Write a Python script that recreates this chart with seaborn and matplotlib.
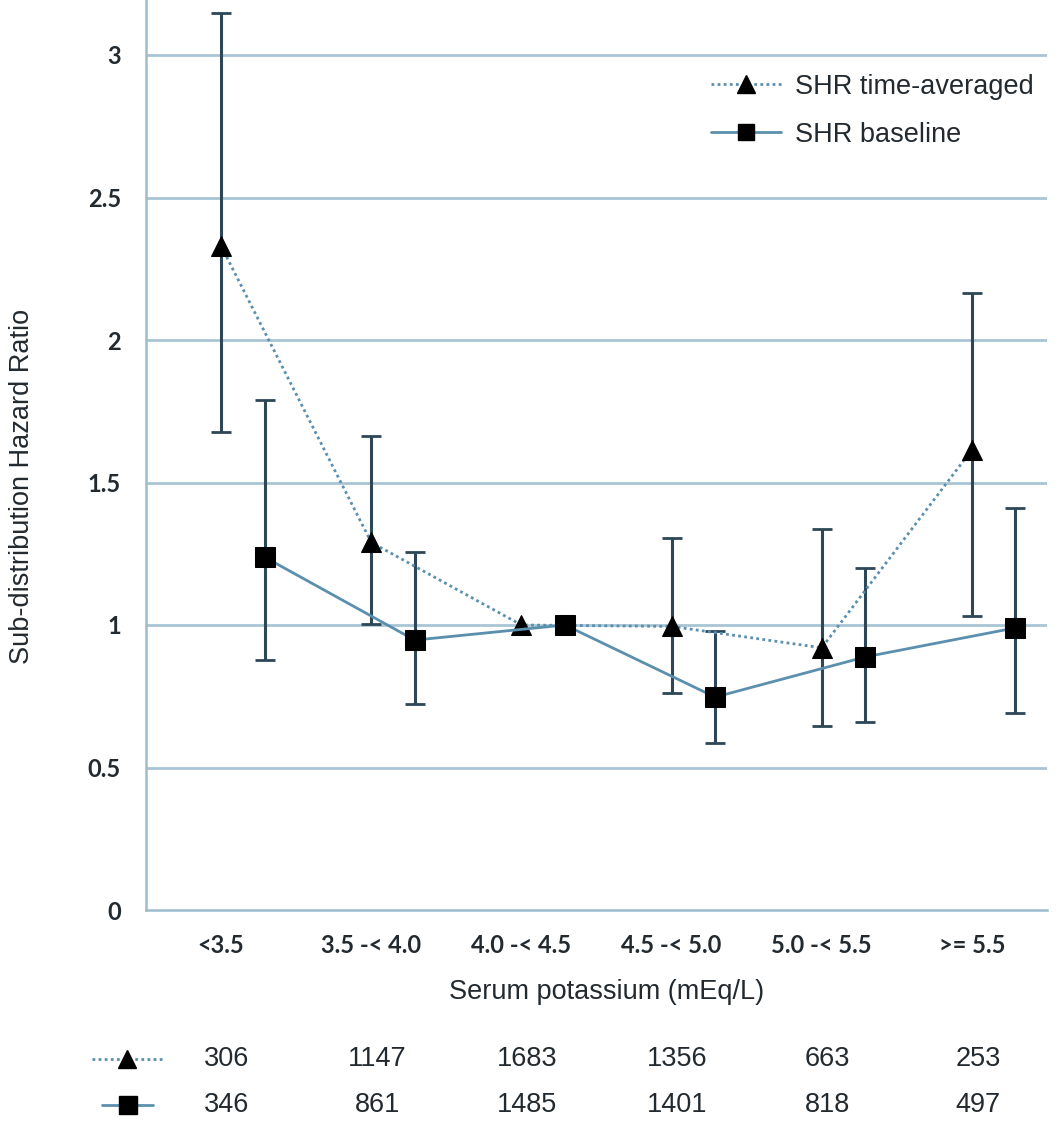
import numpy as np
import pandas as pd
import matplotlib
matplotlib.use("Agg")
import matplotlib.pyplot as plt
from matplotlib.lines import Line2D
import seaborn as sns

categories = ["<3.5", "3.5 -< 4.0", "4.0 -< 4.5", "4.5 -< 5.0", "5.0 -< 5.5", ">= 5.5"]
tavg_hr = [2.33, 1.29, 1.0, 0.995, 0.92, 1.615]
tavg_lo = [1.677, 1.004, np.nan, 0.761, 0.646, 1.032]
tavg_hi = [3.147, 1.663, np.nan, 1.305, 1.337, 2.165]
base_hr = [1.238, 0.947, 1.0, 0.747, 0.888, 0.99]
base_lo = [0.877, 0.723, np.nan, 0.586, 0.66, 0.691]
base_hi = [1.789, 1.256, np.nan, 0.979, 1.2, 1.41]
tavg_n = [306, 1147, 1683, 1356, 663, 253]
base_n = [346, 861, 1485, 1401, 818, 497]
yticks = [0, 0.5, 1, 1.5, 2, 2.5, 3]
ytick_labels = ["0", "0.5", "1", "1.5", "2", "2.5", "3"]

sns.set_theme(style="white")
plt.rcParams['font.family'] = ['Liberation Sans', 'DejaVu Sans']

W, H = 1058, 1122
fig = plt.figure(figsize=(W / 100, H / 100), dpi=100)
ax = fig.add_axes([146 / W, 1 - 910 / H, (1047 - 146) / W, 910 / H])

line_col = "#5b8fae"
err_col = "#2d4756"
grid_col = "#a9c5d5"
spine_col = "#9dbccd"
text_col = "#222a30"
tick_font = dict(family=["Lato", "DejaVu Sans"], weight="bold", size=17)
main_fs = 19.5

idx = np.arange(len(categories))
off = 0.29
df = pd.DataFrame({
    "x": np.concatenate([idx, idx + off]),
    "hr": tavg_hr + base_hr,
    "series": ["SHR time-averaged"] * 6 + ["SHR baseline"] * 6,
})

for y in yticks[1:]:
    ax.axhline(y, color=grid_col, lw=2, zorder=0)

ax.errorbar(idx, tavg_hr,
            yerr=[np.array(tavg_hr) - np.array(tavg_lo), np.array(tavg_hi) - np.array(tavg_hr)],
            fmt="none", ecolor=err_col, elinewidth=2.2, capsize=7, capthick=2, zorder=2)
ax.errorbar(idx + off, base_hr,
            yerr=[np.array(base_hr) - np.array(base_lo), np.array(base_hi) - np.array(base_hr)],
            fmt="none", ecolor=err_col, elinewidth=2.2, capsize=7, capthick=2, zorder=2)

sns.lineplot(data=df[df.series == "SHR time-averaged"], x="x", y="hr", ax=ax,
             color=line_col, lw=2, linestyle=(0, (1, 1.2)), marker="^", markersize=15,
             markerfacecolor="black", markeredgecolor="black",
             zorder=3, legend=False)
sns.lineplot(data=df[df.series == "SHR baseline"], x="x", y="hr", ax=ax,
             color=line_col, lw=2, linestyle="-", marker="s", markersize=14,
             markerfacecolor="black", markeredgecolor="black",
             zorder=3, legend=False)

ax.set_xlim(-0.5, 5.5)
ax.set_ylim(0, 910 / 285)
ax.set_yticks(yticks)
ax.set_yticklabels(ytick_labels, color=text_col, fontdict=tick_font)
ax.set_xticks(idx + 0.0)
ax.set_xticklabels(categories, color=text_col, fontdict=tick_font)
ax.set_xticks(np.arange(-0.5, 6.0, 1.0), minor=True)
ax.tick_params(axis="x", which="major", length=0, pad=17)
ax.tick_params(axis="x", which="minor", length=6, color=spine_col, width=1.5, direction="out")
ax.tick_params(axis="y", length=7, color=spine_col, width=1.5, direction="out", pad=11)
for s in ["top", "right"]:
    ax.spines[s].set_visible(False)
for s in ["left", "bottom"]:
    ax.spines[s].set_color(spine_col)
    ax.spines[s].set_linewidth(1.8)

ax.set_xlabel("Serum potassium (mEq/L)", fontsize=main_fs, color=text_col)
ax.xaxis.set_label_coords((607 - 146) / (1047 - 146), -(979 - 910) / 910)
ax.set_ylabel("Sub-distribution Hazard Ratio", fontsize=19.5, color=text_col)
ax.yaxis.set_label_coords(-(146 - 35) / (1047 - 146), 1 - 486 / 910)

handles = [
    Line2D([], [], color=line_col, lw=2, linestyle=(0, (1, 1.2)), marker="^", markersize=13,
           markerfacecolor="black", markeredgecolor="black"),
    Line2D([], [], color=line_col, lw=2, linestyle="-", marker="s", markersize=12,
           markerfacecolor="black", markeredgecolor="black"),
]
leg = ax.legend(handles, ["SHR time-averaged", "SHR baseline"], loc="upper right",
                bbox_to_anchor=(1.012, 0.946), frameon=False, fontsize=main_fs, handlelength=2.6,
                handletextpad=0.5, labelspacing=0.82)
for t in leg.get_texts():
    t.set_color(text_col)

trans = matplotlib.transforms.blended_transform_factory(ax.transData, fig.transFigure)
row_y = [1 - 1059 / H, 1 - 1105 / H]
for i in range(len(categories)):
    fig.text(i + 0.04, row_y[0], str(tavg_n[i]), transform=trans, ha="center", va="center",
             fontsize=main_fs, color=text_col)
    fig.text(i + 0.04, row_y[1], str(base_n[i]), transform=trans, ha="center", va="center",
             fontsize=main_fs, color=text_col)

fig.add_artist(Line2D([92 / W, 162 / W], [row_y[0], row_y[0]], color=line_col, lw=2,
                      linestyle=(0, (1, 1.2)), transform=fig.transFigure))
fig.add_artist(Line2D([127 / W], [row_y[0]], marker="^", markersize=13, color="black",
                      transform=fig.transFigure, linestyle="none"))
fig.add_artist(Line2D([102 / W, 153 / W], [row_y[1], row_y[1]], color=line_col, lw=2,
                      linestyle="-", transform=fig.transFigure))
fig.add_artist(Line2D([128 / W], [row_y[1]], marker="s", markersize=13, color="black",
                      transform=fig.transFigure, linestyle="none"))

fig.savefig("out.png", dpi=100)
